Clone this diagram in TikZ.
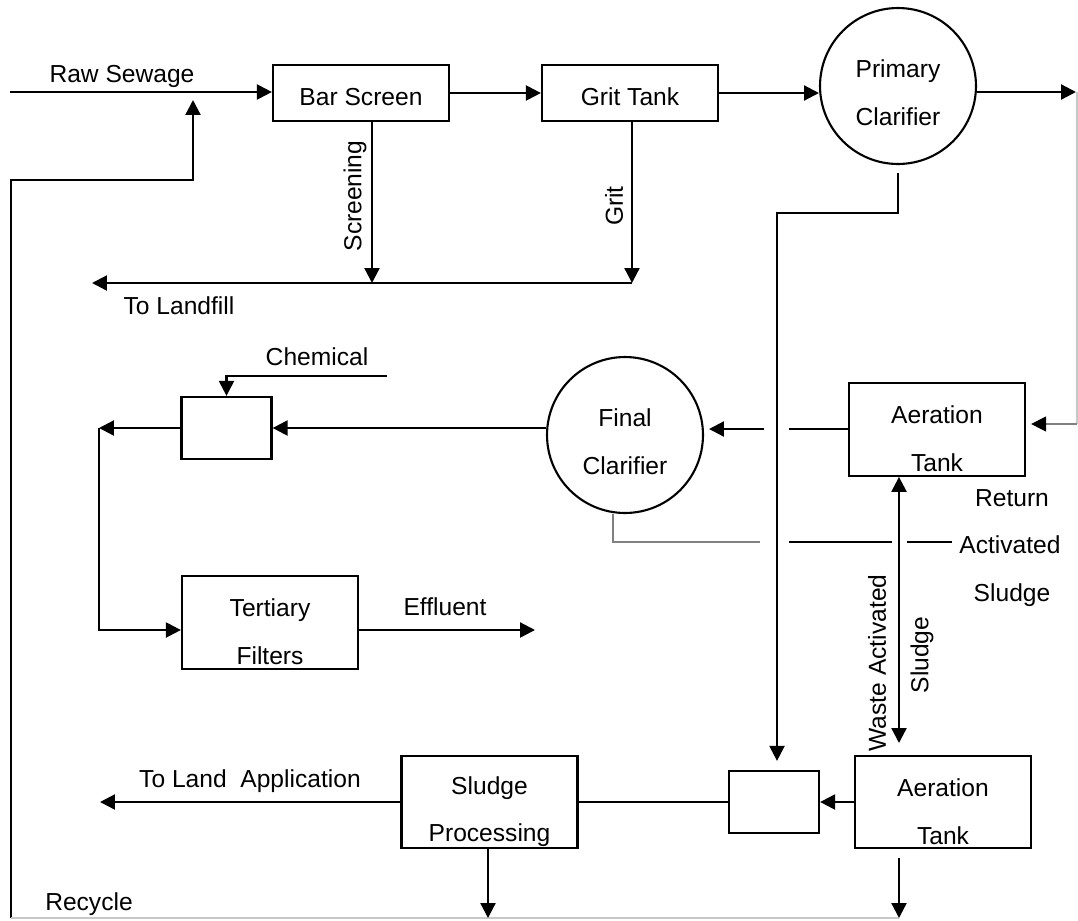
\documentclass[tikz,border=0pt]{standalone}
\usepackage{fontspec}
\setmainfont{Liberation Sans}
\usetikzlibrary{arrows.meta, positioning}
\definecolor{midgray}{RGB}{128,128,128}
\definecolor{palegray}{RGB}{200,200,200}
\newcommand{\padtop}[1]{\rule{0pt}{#1}}
\tikzset{
  unit/.style={rectangle,draw,line width=1.3pt,minimum width=3.52cm,minimum height=1.85cm,inner sep=0pt,align=center},
  mixer/.style={rectangle,draw,line width=1.3pt,minimum width=1.8cm,minimum height=1.24cm,inner sep=0pt},
  tank/.style={circle,draw,line width=1.2pt,minimum size=3.12cm,inner sep=0pt,align=center},
  tag/.style={inner sep=0pt},
  pipe/.style={line width=1.3pt},
  flow/.style={pipe,-{Triangle[length=8.5pt,width=8.5pt]}},
  both/.style={pipe,{Triangle[length=8.5pt,width=8.5pt]}-{Triangle[length=8.5pt,width=8.5pt]}},
  grayline/.style={draw=midgray,line width=0.8pt},
  faint/.style={draw=palegray,line width=0.7pt},
  grayflow/.style={grayline,-{Triangle[length=8.5pt,width=8.5pt,color=black]}}
}

\begin{document}
\begin{tikzpicture}[x=0.02cm,y=-0.02cm,every node/.style={font=\fontsize{14}{27.2}\selectfont}]
\useasboundingbox (0,0) rectangle (1078,920);

% process units
\node[unit, minimum height=1.12cm] (bar) at (361,93) {\padtop{0.52cm}Bar Screen};
\node[unit, minimum height=1.12cm] (grit) at (630,93) {\padtop{0.52cm}Grit Tank};
\node[tank] (prim) at (898,86) {\padtop{0.64cm}Primary\\Clarifier};
\node[unit] (aer) at (937,429.5) {\padtop{0.74cm}Aeration\\Tank};
\node[tank] (final) at (625,435) {\padtop{0.64cm}Final\\Clarifier};
\node[mixer] (mix) at (226.5,428) {};
\node[unit] (tert) at (270,622.5) {\padtop{0.74cm}Tertiary\\Filters};
\node[unit] (sludge) at (489.5,802) {\padtop{0.74cm}Sludge\\Processing};
\node[mixer] (thick) at (774,802) {};
\node[unit] (aer2) at (943,802) {\padtop{0.74cm}Aeration\\Tank};

% free ends and bends
\coordinate (raw) at (10,92);
\coordinate (po) at (1076,92);
\coordinate (rt) at (1077,424);
\coordinate (scr) at (372,283);
\coordinate (grt) at (632,283);
\coordinate (fill) at (92,283);
\coordinate (pbend) at (777,213);
\coordinate (hopA1) at (789,429);
\coordinate (hopA2) at (764,429);
\coordinate (fin) at (709,429);
\coordinate (rs) at (613,542);
\coordinate (hopB1) at (760,542);
\coordinate (hopB2) at (789,542);
\coordinate (hopB3) at (892,542);
\coordinate (hopB4) at (907,542);
\coordinate (rsend) at (952,542);
\coordinate (was) at (899,743);
\coordinate (chem) at (387,376);
\coordinate (lb) at (99,428);
\coordinate (lb2) at (99,630);
\coordinate (eff) at (535,630);
\coordinate (land) at (100,802);
\coordinate (out1) at (488,918);
\coordinate (out2) at (899,918);
\coordinate (rec) at (11,918);
\coordinate (recup) at (193,180);
\coordinate (recin) at (193,100);

% headworks
\draw[flow] (raw) -- (raw -| bar.west);
\draw[flow] (bar.east) -- (grit.west);
\draw[flow] (grit.east) -- (prim.west |- grit.east);
\draw[flow] (prim.east |- po) -- (po);
\draw[flow] (scr |- bar.south) -- (scr);
\draw[flow] (grt |- grit.south) -- (grt);
\draw[flow] (grt) -- (fill);
\draw[flow] (rec) |- (recup) -- (recin);
\draw[faint] (rec) -- (out2);

% secondary treatment
\draw[faint] (rt |- po) -- (rt);
\draw[grayflow, shorten >=0.1cm] (rt) -- (aer.east |- rt);
\draw[flow, shorten >=0.18cm] ([yshift=-0.16cm]prim.south) |- (pbend) -- (pbend |- thick.north);
\draw[pipe] (aer.west |- hopA1) -- (hopA1);
\draw[flow] (hopA2) -- (fin);
\draw[grayline] (rs |- final.south) -- (rs) -- (hopB1);
\draw[pipe] (hopB2) -- (hopB3);
\draw[pipe] (hopB4) -- (rsend);
\draw[both] (was |- aer.south) -- (was);

% tertiary treatment
\draw[flow] (final.west |- mix.east) -- (mix.east);
\draw[flow] (chem) -| (mix.north);
\draw[flow] (mix.west) -- (lb);
\draw[flow] (lb) -- (lb2) -- (lb2 -| tert.west);
\draw[flow] (eff -| tert.east) -- (eff);

% sludge line
\draw[flow] (aer2.west) -- (thick.east);
\draw[pipe] (thick.west) -- (sludge.east);
\draw[flow] (sludge.west) -- (land);
\draw[flow] (out1 |- sludge.south) -- (out1);
\draw[flow] (out2 |- aer2.south) ++(0,9) -- (out2);

% labels
\node[tag, anchor=base] (rawlbl) at (122,82) {Raw Sewage};
\node[tag, rotate=90] (scrlbl) at (355,196) {Screening};
\node[tag, rotate=90] (gritlbl) at (614,206) {Grit};
\node[tag, anchor=base] (filllbl) at (179,314) {To Landfill};
\node[tag] (chemlbl) at (317,357) {Chemical};
\node[tag] (efflbl) at (445,607) {Effluent};
\node[tag] (landlbl) at (250,781) {To Land\ \ Application};
\node[tag] (reclbl) at (89,904) {Recycle};
\node[tag] (retlbl) at (1012,498) {Return};
\node[tag] (actlbl) at (1010,545) {Activated};
\node[tag] (sldlbl) at (1012,595) {Sludge};
\node[tag, rotate=90] (waslbl) at (877,663) {Waste Activated};
\node[tag, rotate=90] (wsllbl) at (922,655) {Sludge};
\end{tikzpicture}
\end{document}
